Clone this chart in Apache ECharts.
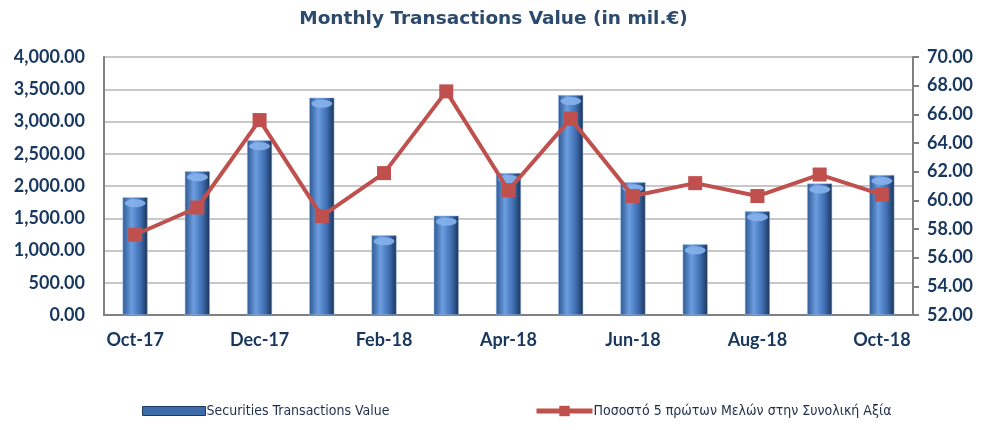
<!DOCTYPE html>
<html>
<head>
<meta charset="utf-8">
<script src="https://cdn.jsdelivr.net/npm/echarts@6/dist/echarts.min.js"></script>
<style>
  html, body { margin: 0; padding: 0; background: #fff; }
  #main { width: 987px; height: 430px; }
</style>
</head>
<body>
<div id="main"></div>
<script>
// data
var months = ['Oct-17', 'Nov-17', 'Dec-17', 'Jan-18', 'Feb-18', 'Mar-18', 'Apr-18',
  'May-18', 'Jun-18', 'Jul-18', 'Aug-18', 'Sep-18', 'Oct-18'];
var transValue = [1825, 2230, 2710, 3370, 1235, 1540, 2200, 3410, 2060, 1095, 1610, 2040, 2170];
var top5Share = [57.6, 59.5, 65.6, 58.9, 61.9, 67.6, 60.7, 65.7, 60.3, 61.2, 60.3, 61.8, 60.4];

var barName = 'Securities Transactions Value';
var lineName = 'Ποσοστό 5 πρώτων Μελών στην Συνολική Αξία';
var axisColor = '#17375e';
var legendFont = "'DejaVu Sans Condensed', 'Roboto Condensed', 'Liberation Sans', sans-serif";

var myChart = echarts.init(document.getElementById('main'));

var cylinder = new echarts.graphic.LinearGradient(0, 0, 1, 0, [
  { offset: 0, color: '#2f5890' },
  { offset: 0.35, color: '#6b9de0' },
  { offset: 0.7, color: '#3f6fb2' },
  { offset: 1, color: '#1b3357' }
]);

var legendText = {
  fontFamily: legendFont,
  fontSize: 14,
  color: '#1e2f4a',
  padding: [0, 0, 0, -4]
};

var option = {
  animation: false,
  title: {
    text: 'Monthly Transactions Value (in mil.€)',
    left: 'center',
    top: 5,
    textStyle: {
      fontFamily: 'DejaVu Sans',
      fontSize: 18.5,
      fontWeight: 'bold',
      color: '#2b4a6c'
    }
  },
  legend: [
    {
      bottom: 7,
      left: 137,
      itemWidth: 63,
      itemHeight: 9,
      data: [
        { name: barName, icon: 'rect', itemStyle: { color: '#3d6aa8', borderColor: '#1f3a60', borderWidth: 1 } }
      ],
      textStyle: legendText
    },
    {
      bottom: 7,
      left: 529,
      itemWidth: 56,
      itemHeight: 13,
      data: [
        { name: lineName, lineStyle: { width: 5 } }
      ],
      textStyle: legendText
    }
  ],
  grid: {
    left: 104,
    right: 74,
    top: 57,
    bottom: 115
  },
  xAxis: {
    type: 'category',
    data: months,
    axisLine: { lineStyle: { color: '#808080', width: 2 } },
    axisTick: { show: false },
    axisLabel: {
      interval: 1,
      margin: 16,
      fontFamily: 'Lato',
      fontWeight: 'bold',
      fontSize: 18,
      color: axisColor
    }
  },
  yAxis: [
    {
      type: 'value',
      min: 0,
      max: 4000,
      interval: 500,
      axisLine: { show: true, lineStyle: { color: '#808080', width: 2 } },
      axisTick: { show: false },
      splitLine: { lineStyle: { color: '#c8c8c8', width: 2 } },
      axisLabel: {
        margin: 19,
        fontFamily: 'Lato',
        fontWeight: 'bold',
        fontSize: 18,
        color: axisColor,
        formatter: function (v) {
          return v.toLocaleString('en-US', { minimumFractionDigits: 2, maximumFractionDigits: 2 });
        }
      }
    },
    {
      type: 'value',
      min: 52,
      max: 70,
      interval: 2,
      position: 'right',
      axisLine: { show: true, lineStyle: { color: '#808080', width: 2 } },
      axisTick: { show: true, length: 6, lineStyle: { color: '#808080', width: 2 } },
      splitLine: { show: false },
      axisLabel: {
        margin: 14,
        fontFamily: 'Lato',
        fontWeight: 'bold',
        fontSize: 18,
        color: axisColor,
        formatter: function (v) { return v.toFixed(2); }
      }
    }
  ],
  series: [
    {
      name: barName,
      type: 'bar',
      data: transValue,
      barWidth: 25,
      itemStyle: {
        color: cylinder,
        borderColor: '#9cc0ee',
        borderWidth: 0.5
      },
      z: 2
    },
    {
      // cylinder caps
      name: 'cap',
      type: 'pictorialBar',
      data: transValue,
      symbol: 'circle',
      symbolSize: [21, 8],
      symbolPosition: 'end',
      symbolOffset: [0, 2],
      itemStyle: { color: '#86b3ec', opacity: 0.9 },
      silent: true,
      z: 3
    },
    {
      name: lineName,
      type: 'line',
      yAxisIndex: 1,
      data: top5Share,
      symbol: 'rect',
      symbolSize: 14,
      lineStyle: { color: '#c0504d', width: 4 },
      itemStyle: { color: '#c0504d' },
      z: 5
    }
  ]
};

myChart.setOption(option);
</script>
</body>
</html>
